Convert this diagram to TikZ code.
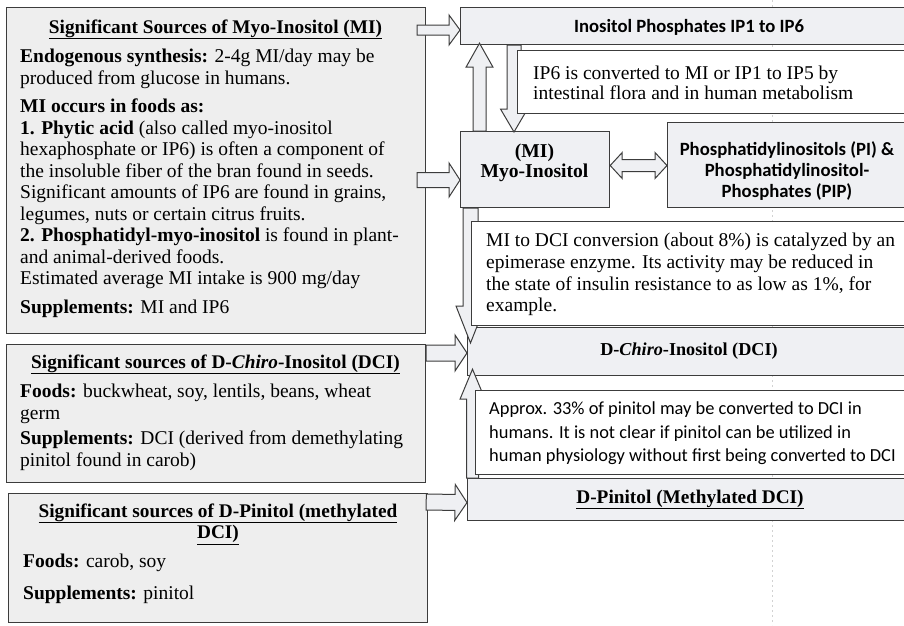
\documentclass[tikz,border=0pt]{standalone}
\usepackage{fontspec}
\setmainfont{Liberation Serif}
\newfontfamily\calibrifont{Carlito}
\usetikzlibrary{calc}

\definecolor{srcfill}{HTML}{EEEEEE}
\definecolor{mapfill}{HTML}{EFF0F3}
\definecolor{edgecol}{HTML}{3C3C3C}

\tikzset{
	srcbox/.style={draw=edgecol, fill=srcfill, line width=1.2pt, anchor=north west, inner sep=0pt},
	mapbox/.style={srcbox, fill=mapfill},
	notebox/.style={srcbox, fill=white},
	blockarrow/.style={draw=edgecol, fill=mapfill, line width=1pt, line join=miter},
	bodytext/.style={anchor=north west, inner sep=0pt, align=left, font=\fontsize{19.5}{21.5}\selectfont},
	titletext/.style={anchor=base, inner sep=0pt, align=center, font=\fontsize{19.3}{21.5}\selectfont\bfseries},
	sanstitle/.style={anchor=base, inner sep=0pt, align=center, font=\calibrifont\fontsize{18.7}{21}\selectfont\bfseries},
	sanstext/.style={anchor=north west, inner sep=0pt, align=left, font=\calibrifont\fontsize{18.4}{23.5}\selectfont},
}

% tail, tip, shaft half width, head half width, head length
\newcommand\blockarrow[5]{%
	\draw[blockarrow] let \p1=(#1), \p2=(#2),
		\n1={veclen(\x2-\x1,\y2-\y1)}, \n2={atan2(\y2-\y1,\x2-\x1)} in
		[shift={(\p1)}, rotate=\n2]
		(0pt,#3pt) -- ({\n1-#5pt},#3pt) -- ({\n1-#5pt},#4pt) -- (\n1,0pt)
		-- ({\n1-#5pt},-#4pt) -- ({\n1-#5pt},-#3pt) -- (0pt,-#3pt) -- cycle;}
\newcommand\blockdblarrow[5]{%
	\draw[blockarrow] let \p1=(#1), \p2=(#2),
		\n1={veclen(\x2-\x1,\y2-\y1)}, \n2={atan2(\y2-\y1,\x2-\x1)} in
		[shift={(\p1)}, rotate=\n2]
		(0pt,0pt) -- (#5pt,#4pt) -- (#5pt,#3pt) -- ({\n1-#5pt},#3pt) -- ({\n1-#5pt},#4pt) -- (\n1,0pt)
		-- ({\n1-#5pt},-#4pt) -- ({\n1-#5pt},-#3pt) -- (#5pt,-#3pt) -- (#5pt,-#4pt) -- cycle;}

\begin{document}
\begin{tikzpicture}[x=1pt,y=-1pt]
	\useasboundingbox (0,0) rectangle (904,625);
	\fill[white] (0,0) rectangle (904,625);
	\draw[gray!35, line width=0.6pt, dash pattern=on 2pt off 3pt] (772,0) -- (772,625);

	% sources
	\node[srcbox, minimum width=419pt, minimum height=326pt] (srcMI) at (6,7) {};
	\node[srcbox, minimum width=419pt, minimum height=138pt] (srcDCI) at (6,344) {};
	\node[srcbox, minimum width=419pt, minimum height=129pt] (srcPin) at (8,493) {};

	% metabolism
	\node[mapbox, minimum width=458pt, minimum height=37pt] (ip) at (460,7) {};
	\node[mapbox, minimum width=149pt, minimum height=76pt] (mi) at (460,131) {};
	\node[mapbox, minimum width=251pt, minimum height=85pt] (pi) at (667,122) {};
	\node[mapbox, minimum width=451pt, minimum height=48pt] (dci) at (467,327) {};
	\node[mapbox, minimum width=451pt, minimum height=42pt] (pin) at (467,478) {};

	\blockarrow{$(srcMI.north east)+(-9,23)$}{$(ip.north west)+(0,23)$}{5}{15}{11}
	\blockarrow{$(srcMI.north east)+(-9,173)$}{$(mi.north west)+(0,49)$}{7.5}{17}{11}
	\blockdblarrow{$(mi.north east)+(0,34.5)$}{$(pi.north west)+(0,43.5)$}{6}{13}{12}
	\blockarrow{$(ip.south west)+(54,0)$}{$(mi.north west)+(54,1)$}{7}{13.5}{23}
	\blockarrow{$(mi.north west)+(19.5,0)$}{$(ip.south west)+(19.5,-2)$}{6.5}{13.5}{24}
	\blockarrow{$(mi.south west)+(10.5,0)$}{$(dci.north west)+(3.5,16)$}{7.5}{14.5}{37}
	\blockarrow{$(pin.north west)+(5.5,0)$}{$(dci.south west)+(5.5,-7)$}{6}{12.5}{30}
	\blockarrow{$(srcDCI.north east)+(0,9)$}{$(dci.north west)+(0,26)$}{8}{18}{12}
	\blockarrow{$(srcPin.north east)+(-2,9)$}{$(pin.west)+(0,3)$}{8}{18}{12}

	% notes
	\node[notebox, minimum width=401pt, minimum height=63pt] (noteIP) at (517,50) {};
	\node[notebox, minimum width=447pt, minimum height=104pt] (noteDCI) at (471,221) {};
	\node[notebox, minimum width=443pt, minimum height=84pt] (notePin) at (475,390) {};

	% texts
	\node[titletext] (srcMItitle) at (215.5,33) {\underline{Significant Sources of Myo-Inositol (MI)}};
	\node[bodytext] (srcMIbody) at (20,49) {%
		\textbf{Endogenous synthesis:} 2-4g MI/day may be\\
		produced from glucose in humans.\\[7pt]
		\textbf{MI occurs in foods as:}\\
		\textbf{1. Phytic acid} (also called myo-inositol\\
		hexaphosphate or IP6) is often a component of\\
		the insoluble fiber of the bran found in seeds.\\
		Significant amounts of IP6 are found in grains,\\
		legumes, nuts or certain citrus fruits.\\
		\textbf{2. Phosphatidyl-myo-inositol} is found in plant-\\
		and animal-derived foods.\\
		Estimated average MI intake is 900 mg/day\\[7.5pt]
		\textbf{Supplements:} MI and IP6};
	\node[titletext] (srcDCItitle) at (215.5,368) {\underline{Significant sources of D-\textit{Chiro}-Inositol (DCI)}};
	\node[bodytext] (srcDCIbody) at (20,384) {%
		\textbf{Foods:} buckwheat, soy, lentils, beans, wheat\\
		germ\\[4pt]
		\textbf{Supplements:} DCI (derived from demethylating\\
		pinitol found in carob)};
	\node[titletext] (srcPintitle) at (218,538.5) {\underline{Significant sources of D-Pinitol (methylated}\\\underline{DCI)}};
	\node[bodytext] (srcPinbody) at (23,554) {%
		\textbf{Foods:} carob, soy\\[10.5pt]
		\textbf{Supplements:} pinitol};

	\node[sanstitle] (iptitle) at (689,32) {Inositol Phosphates IP1 to IP6};
	\node[bodytext, font=\fontsize{19.5}{20}\selectfont] (noteIPtext) at (533,66) {IP6 is converted to MI or IP1 to IP5 by\\intestinal flora and in human metabolism};
	\node[titletext, font=\fontsize{19.6}{20}\selectfont\bfseries] (mititle) at (534.5,177) {(MI)\\Myo-Inositol};
	\node[sanstitle] (pititle) at (787,197) {Phosphatidylinositols (PI) \&\\Phosphatidylinositol-\\Phosphates (PIP)};
	\node[bodytext, font=\fontsize{19.5}{21.7}\selectfont] (noteDCItext) at (486,233) {%
		MI to DCI conversion (about 8\%) is catalyzed by an\\
		epimerase enzyme. Its activity may be reduced in\\
		the state of insulin resistance to as low as 1\%, for\\
		example.};
	\node[titletext, font=\fontsize{18.2}{20}\selectfont\bfseries] (dcititle) at (689,355) {D-\textit{Chiro}-Inositol (DCI)};
	\node[sanstext] (notePintext) at (489,402) {%
		Approx. 33\% of pinitol may be converted to DCI in\\
		humans. It is not clear if pinitol can be utilized in\\
		human physiology without first being converted to DCI};
	\node[titletext] (pintitle) at (690,503) {\underline{D-Pinitol (Methylated DCI)}};
\end{tikzpicture}
\end{document}
